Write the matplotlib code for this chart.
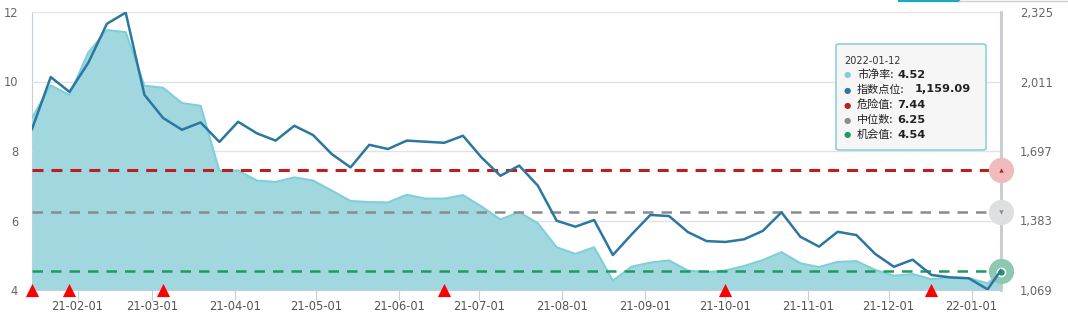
import numpy as np
import pandas as pd
import matplotlib
matplotlib.use("Agg")
import matplotlib.pyplot as plt
import matplotlib.dates as mdates
from matplotlib.patches import FancyBboxPatch
from matplotlib.ticker import FuncFormatter

plt.rcParams['font.family'] = ['DejaVu Sans', 'Noto Sans CJK SC']

# weekly closes plus the last trading day
dates = list(pd.date_range('2021-01-15', periods=52, freq='7D')) + [pd.Timestamp('2022-01-12')]

pb = [8.95, 9.89, 9.61, 10.83, 11.48, 11.42, 9.88, 9.82, 9.38, 9.30,
      7.43, 7.44, 7.15, 7.11, 7.24, 7.15, 6.86, 6.56, 6.53, 6.52,
      6.74, 6.63, 6.63, 6.73, 6.40, 6.03, 6.24, 5.92, 5.23, 5.04,
      5.23, 4.27, 4.67, 4.79, 4.85, 4.56, 4.51, 4.56, 4.69, 4.86,
      5.09, 4.77, 4.66, 4.81, 4.83, 4.58, 4.41, 4.46, 4.31, 4.36,
      4.34, 4.19, 4.52]

index_pts = [1796, 2031, 1964, 2095, 2272, 2322, 1951, 1846, 1793, 1826,
             1738, 1829, 1777, 1744, 1811, 1769, 1683, 1623, 1725, 1706,
             1744, 1739, 1734, 1766, 1667, 1585, 1631, 1540, 1382, 1355,
             1385, 1227, 1320, 1408, 1403, 1331, 1290, 1286, 1298, 1336,
             1420, 1310, 1265, 1332, 1317, 1232, 1174, 1206, 1137, 1126,
             1122, 1072, 1159.09]

danger = 7.44
median = 6.25
chance = 4.54

# weeks flagged with a red marker on the date axis
flag_idx = [0, 2, 7, 22, 37, 48]

c_pb = '#7fcfd8'
c_fill = '#a1d8e0'
c_idx = '#2b77a0'
c_red = '#bd1f1f'
c_gray = '#888b90'
c_green = '#1e9a5e'

W, H = 1068, 327
fig = plt.figure(figsize=(W / 100, H / 100), dpi=100)
L, R, T, B = 32, 1001, 12, 290
ax = fig.add_axes([L / W, (H - B) / H, (R - L) / W, (B - T) / H])

ax.fill_between(dates, pb, 4, color=c_fill, lw=0, zorder=1)
ax.plot(dates, pb, color=c_pb, lw=1.5, zorder=2)

ax.set_xlim(dates[0], dates[-1])
ax.set_ylim(4, 12)
ax.set_yticks([4, 6, 8, 10, 12])
ax.grid(axis='y', color='#e2e3e8', lw=1)
ax.set_axisbelow(True)

ax.axhline(danger, color=c_red, lw=2.2, ls=(0, (3.6, 2.6)), zorder=3)
ax.axhline(median, color=c_gray, lw=1.8, ls=(0, (4.2, 3.2)), zorder=3)
ax.axhline(chance, color=c_green, lw=1.8, ls=(0, (4.2, 3.2)), zorder=3)

ax.scatter([dates[i] for i in flag_idx], [4] * len(flag_idx), marker='^',
           s=90, color='#ff0000', lw=0, zorder=6, clip_on=False)

for s in ['top', 'right']:
    ax.spines[s].set_visible(False)
ax.spines['left'].set_color('#c5cedb')
ax.spines['bottom'].set_color('#c5cedb')
ax.spines['left'].set_zorder(0.5)

ax.xaxis.set_major_locator(mdates.MonthLocator(bymonthday=1))
ax.xaxis.set_major_formatter(mdates.DateFormatter('%y-%m-%d'))
ax.tick_params(axis='x', length=7, color='#c5cedb', labelsize=8.3,
               labelcolor='#555555', pad=0.5)
ax.tick_params(axis='y', length=0, labelsize=8.3, labelcolor='#666666', pad=10)

ax2 = ax.twinx()
ax2.plot(dates, index_pts, color=c_idx, lw=1.8, zorder=4)
ax2.set_ylim(1069, 2325)
ax2.set_yticks([1069, 1383, 1697, 2011, 2325])
ax2.yaxis.set_major_formatter(FuncFormatter(lambda v, p: f'{v:,.0f}'))
ax2.tick_params(axis='y', length=0, labelsize=8.3, labelcolor='#666666', pad=13.5)
for s in ax2.spines.values():
    s.set_visible(False)

# crosshair on the last date
ax.axvline(dates[-1], color='#c6cacf', lw=2, zorder=5, clip_on=False)

# end markers on the reference lines
for val, halo, c, mk in [(danger, '#eebcbc', c_red, '^'),
                         (median, '#dedfe1', c_gray, 'v')]:
    ax.scatter([dates[-1]], [val], s=330, color=halo, lw=0, zorder=7, clip_on=False)
    ax.scatter([dates[-1]], [val], s=10, color=c, marker=mk, lw=0, zorder=8, clip_on=False)
ax.scatter([dates[-1]], [chance], s=330, color='#8cc8b2', lw=0, zorder=7, clip_on=False)
ax.scatter([dates[-1]], [pb[-1]], s=34, color=c_green, edgecolor='white', lw=1.2,
           zorder=8, clip_on=False)

# tooltip box
def fx(px):
    return px / W

def fy(py):
    return 1 - py / H

box = FancyBboxPatch((fx(836), fy(150)), fx(986) - fx(836), fy(44) - fy(150),
                     boxstyle='round,pad=0,rounding_size=0.004',
                     transform=fig.transFigure, facecolor='#f6f6f6',
                     edgecolor='#8fd0d8', lw=1.2, zorder=10)
fig.patches.append(box)
fig.text(fx(844), fy(61), dates[-1].strftime('%Y-%m-%d'), fontsize=7,
         color='#333333', va='center', zorder=11)

rows = [('市净率', pb[-1], '#7fcfd8', '{:.2f}'),
        ('指数点位', index_pts[-1], c_idx, '{:,.2f}'),
        ('危险值', danger, c_red, '{:.2f}'),
        ('中位数', median, c_gray, '{:.2f}'),
        ('机会值', chance, c_green, '{:.2f}')]
for i, (name, val, col, fmt) in enumerate(rows):
    y = 74.5 + 15 * i
    fig.text(fx(847), fy(y + 0.5), '●', fontsize=6, color=col, ha='center',
             va='center', zorder=11)
    fig.text(fx(857), fy(y), name + ':', fontsize=8, color='#222222',
             va='center', family=['Noto Sans CJK SC', 'DejaVu Sans'], zorder=11)
    vx = 915 if len(name) == 4 else 897
    fig.text(fx(vx), fy(y), fmt.format(val), fontsize=8.2, fontweight='bold',
             color='#222222', va='center', zorder=11)

# tab underline at the top edge
fig.add_artist(plt.Line2D([fx(899), fx(959)], [fy(0.8), fy(0.8)], color='#1aa9c4',
                          lw=1.6, transform=fig.transFigure))
fig.add_artist(plt.Line2D([fx(959), fx(1068)], [fy(0.8), fy(0.8)], color='#cfcfcf',
                          lw=1, transform=fig.transFigure))

fig.savefig('out.png', dpi=100)
